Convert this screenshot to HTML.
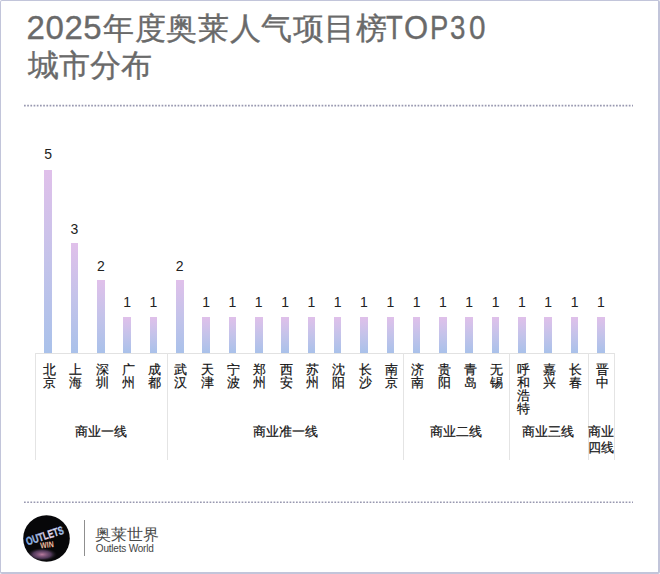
<!DOCTYPE html>
<html><head><meta charset="utf-8">
<style>
html,body{margin:0;padding:0;}
body{width:660px;height:574px;position:relative;overflow:hidden;background:#fff;font-family:"Liberation Sans",sans-serif;}
.frame{position:absolute;left:0;top:0;width:657px;height:571px;border-style:solid;border-color:#c2c5da;border-width:1px 2px 2px 1px;border-radius:2px;}
.t{position:absolute;color:#6a6a6a;white-space:nowrap;-webkit-text-stroke:0.35px #6a6a6a;}
.bar{position:absolute;background:linear-gradient(180deg,#e0c0ea 0%,#c4c3ea 50%,#a9c1ea 100%);}
.dl{position:absolute;width:30px;text-align:center;font-size:14px;line-height:16px;color:#222;}
.cl{position:absolute;width:30px;text-align:center;font-size:13px;line-height:13px;color:#111;-webkit-text-stroke:0.2px #111;}
.gl{position:absolute;text-align:center;font-size:13px;line-height:16px;color:#111;-webkit-text-stroke:0.2px #111;}
.vl{position:absolute;top:353px;width:1px;height:107px;background:#e4e4e4;}
.axis{position:absolute;left:35px;top:353px;width:579px;height:1px;background:#e2e2e2;}
</style></head><body>
<div class="frame"></div>
<div class="t" style="left:26.5px;top:7.5px;font-size:33px;line-height:40px;letter-spacing:0.6px">2025</div>
<div class="t" style="left:103.3px;top:7.5px;font-size:30.5px;line-height:40px;letter-spacing:0.6px">年度奥莱人气项目榜</div>
<div class="t" style="left:386.4px;top:7.5px;font-size:33px;line-height:40px;transform:scaleX(0.83);transform-origin:0 0">T</div>
<div class="t" style="left:404.2px;top:7.5px;font-size:33px;line-height:40px;transform:scaleX(0.94);transform-origin:0 0">O</div>
<div class="t" style="left:429.7px;top:7.5px;font-size:33px;line-height:40px;transform:scaleX(0.83);transform-origin:0 0">P</div>
<div class="t" style="left:450.2px;top:7.5px;font-size:33px;line-height:40px;transform:scaleX(0.84);transform-origin:0 0">3</div>
<div class="t" style="left:469.2px;top:7.5px;font-size:33px;line-height:40px;transform:scaleX(0.9);transform-origin:0 0">0</div>
<div class="t" style="left:28px;top:44.5px;font-size:30.5px;line-height:40px;">城市分布</div>
<svg style="position:absolute;left:0;top:100px" width="660" height="12"><line x1="24" y1="5.6" x2="633" y2="5.6" stroke="#9898b0" stroke-width="1.6" stroke-dasharray="1.7 1.5"/></svg>
<div class="axis"></div>
<div class="bar" style="left:44.36px;width:7.6px;top:169.50px;height:183.50px"></div>
<div class="dl" style="left:33.16px;top:145.5px">5</div>
<div class="cl" style="left:34.36px;top:362.5px">北<br>京</div>
<div class="bar" style="left:70.68px;width:7.6px;top:243.10px;height:109.90px"></div>
<div class="dl" style="left:59.48px;top:220.7px">3</div>
<div class="cl" style="left:60.68px;top:362.5px">上<br>海</div>
<div class="bar" style="left:97.00px;width:7.6px;top:279.90px;height:73.10px"></div>
<div class="dl" style="left:85.80px;top:257.6px">2</div>
<div class="cl" style="left:87.00px;top:362.5px">深<br>圳</div>
<div class="bar" style="left:123.32px;width:7.6px;top:316.70px;height:36.30px"></div>
<div class="dl" style="left:112.12px;top:294.2px">1</div>
<div class="cl" style="left:113.32px;top:362.5px">广<br>州</div>
<div class="bar" style="left:149.64px;width:7.6px;top:316.70px;height:36.30px"></div>
<div class="dl" style="left:138.44px;top:294.2px">1</div>
<div class="cl" style="left:139.64px;top:362.5px">成<br>都</div>
<div class="bar" style="left:175.96px;width:7.6px;top:279.90px;height:73.10px"></div>
<div class="dl" style="left:164.76px;top:257.6px">2</div>
<div class="cl" style="left:165.96px;top:362.5px">武<br>汉</div>
<div class="bar" style="left:202.28px;width:7.6px;top:316.70px;height:36.30px"></div>
<div class="dl" style="left:191.08px;top:294.2px">1</div>
<div class="cl" style="left:192.28px;top:362.5px">天<br>津</div>
<div class="bar" style="left:228.60px;width:7.6px;top:316.70px;height:36.30px"></div>
<div class="dl" style="left:217.40px;top:294.2px">1</div>
<div class="cl" style="left:218.60px;top:362.5px">宁<br>波</div>
<div class="bar" style="left:254.92px;width:7.6px;top:316.70px;height:36.30px"></div>
<div class="dl" style="left:243.72px;top:294.2px">1</div>
<div class="cl" style="left:244.92px;top:362.5px">郑<br>州</div>
<div class="bar" style="left:281.24px;width:7.6px;top:316.70px;height:36.30px"></div>
<div class="dl" style="left:270.04px;top:294.2px">1</div>
<div class="cl" style="left:271.24px;top:362.5px">西<br>安</div>
<div class="bar" style="left:307.56px;width:7.6px;top:316.70px;height:36.30px"></div>
<div class="dl" style="left:296.36px;top:294.2px">1</div>
<div class="cl" style="left:297.56px;top:362.5px">苏<br>州</div>
<div class="bar" style="left:333.88px;width:7.6px;top:316.70px;height:36.30px"></div>
<div class="dl" style="left:322.68px;top:294.2px">1</div>
<div class="cl" style="left:323.88px;top:362.5px">沈<br>阳</div>
<div class="bar" style="left:360.20px;width:7.6px;top:316.70px;height:36.30px"></div>
<div class="dl" style="left:349.00px;top:294.2px">1</div>
<div class="cl" style="left:350.20px;top:362.5px">长<br>沙</div>
<div class="bar" style="left:386.52px;width:7.6px;top:316.70px;height:36.30px"></div>
<div class="dl" style="left:375.32px;top:294.2px">1</div>
<div class="cl" style="left:376.52px;top:362.5px">南<br>京</div>
<div class="bar" style="left:412.84px;width:7.6px;top:316.70px;height:36.30px"></div>
<div class="dl" style="left:401.64px;top:294.2px">1</div>
<div class="cl" style="left:402.84px;top:362.5px">济<br>南</div>
<div class="bar" style="left:439.16px;width:7.6px;top:316.70px;height:36.30px"></div>
<div class="dl" style="left:427.96px;top:294.2px">1</div>
<div class="cl" style="left:429.16px;top:362.5px">贵<br>阳</div>
<div class="bar" style="left:465.48px;width:7.6px;top:316.70px;height:36.30px"></div>
<div class="dl" style="left:454.28px;top:294.2px">1</div>
<div class="cl" style="left:455.48px;top:362.5px">青<br>岛</div>
<div class="bar" style="left:491.80px;width:7.6px;top:316.70px;height:36.30px"></div>
<div class="dl" style="left:480.60px;top:294.2px">1</div>
<div class="cl" style="left:481.80px;top:362.5px">无<br>锡</div>
<div class="bar" style="left:518.12px;width:7.6px;top:316.70px;height:36.30px"></div>
<div class="dl" style="left:506.92px;top:294.2px">1</div>
<div class="cl" style="left:508.12px;top:362.5px">呼<br>和<br>浩<br>特</div>
<div class="bar" style="left:544.44px;width:7.6px;top:316.70px;height:36.30px"></div>
<div class="dl" style="left:533.24px;top:294.2px">1</div>
<div class="cl" style="left:534.44px;top:362.5px">嘉<br>兴</div>
<div class="bar" style="left:570.76px;width:7.6px;top:316.70px;height:36.30px"></div>
<div class="dl" style="left:559.56px;top:294.2px">1</div>
<div class="cl" style="left:560.76px;top:362.5px">长<br>春</div>
<div class="bar" style="left:597.08px;width:7.6px;top:316.70px;height:36.30px"></div>
<div class="dl" style="left:585.88px;top:294.2px">1</div>
<div class="cl" style="left:587.08px;top:362.5px">晋<br>中</div>
<div class="vl" style="left:35.00px"></div>
<div class="gl" style="left:35.00px;width:131.60px;top:424px">商业一线</div>
<div class="vl" style="left:166.60px"></div>
<div class="gl" style="left:166.60px;width:236.88px;top:424px">商业准一线</div>
<div class="vl" style="left:403.48px"></div>
<div class="gl" style="left:403.48px;width:105.28px;top:424px">商业二线</div>
<div class="vl" style="left:508.76px"></div>
<div class="gl" style="left:508.76px;width:78.96px;top:424px">商业三线</div>
<div class="vl" style="left:587.72px"></div>
<div class="gl" style="left:587.72px;width:26.32px;top:424px;line-height:16px">商业<br>四线</div>
<div class="vl" style="left:614.04px"></div>
<svg style="position:absolute;left:0;top:496px" width="660" height="12"><line x1="24" y1="6.2" x2="633" y2="6.2" stroke="#9898b0" stroke-width="1.6" stroke-dasharray="1.7 1.5"/></svg>
<svg style="position:absolute;left:23px;top:515px" width="47" height="47" viewBox="0 0 47 47">
<defs>
<clipPath id="cc"><circle cx="23.5" cy="23.5" r="23.3"/></clipPath>
<linearGradient id="g1" x1="0" y1="0" x2="1" y2="0"><stop offset="0" stop-color="#5aa6e8"/><stop offset="0.35" stop-color="#9cc4ee"/><stop offset="0.55" stop-color="#f2d2e0"/><stop offset="0.8" stop-color="#c8dcf4"/><stop offset="1" stop-color="#68b0ee"/></linearGradient>
<radialGradient id="g3" cx="0.5" cy="0.5" r="0.5"><stop offset="0" stop-color="#d890b8" stop-opacity="0.85"/><stop offset="0.6" stop-color="#9a6aa8" stop-opacity="0.5"/><stop offset="1" stop-color="#333" stop-opacity="0"/></radialGradient>
<linearGradient id="g2" x1="0" y1="0" x2="0" y2="1"><stop offset="0" stop-color="#050508" stop-opacity="0"/><stop offset="1" stop-color="#c07aa8" stop-opacity="0.9"/></linearGradient>
</defs>
<g clip-path="url(#cc)">
<rect width="47" height="47" fill="#070709"/>
<ellipse cx="19" cy="39.5" rx="15" ry="6.5" fill="url(#g3)"/>
<text transform="translate(4.5,30.5) rotate(-18)" font-family="Liberation Sans" font-weight="bold" font-size="11.5" fill="url(#g1)" stroke="#e8d8f0" stroke-width="0.25" textLength="39" lengthAdjust="spacingAndGlyphs">OUTLETS</text>
<text transform="translate(17.5,33.5) rotate(-6)" font-family="Liberation Sans" font-weight="bold" font-size="8.5" fill="#e9b79c" textLength="13.5" lengthAdjust="spacingAndGlyphs">WIN</text>
</g>
</svg>
<div style="position:absolute;left:84px;top:520px;width:1px;height:36px;background:#8f8f8f"></div>
<div class="t" style="left:95px;top:525px;font-size:15.6px;line-height:20px;color:#4a4a4a;-webkit-text-stroke:0">奥莱世界</div>
<div class="t" style="left:95.8px;top:542px;font-size:10px;line-height:13px;color:#444;letter-spacing:-0.2px;-webkit-text-stroke:0">Outlets World</div>
</body></html>
